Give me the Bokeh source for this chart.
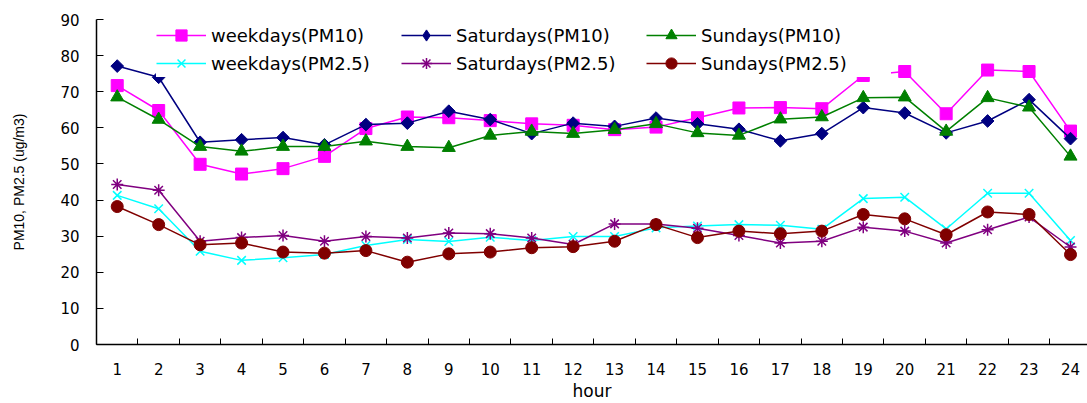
import math
from bokeh.plotting import figure
from bokeh.models import FixedTicker, Legend, LegendItem, Range1d
from bokeh.embed import file_html
from bokeh.resources import INLINE

hours = list(range(1, 25))
hour_labels = [str(h) for h in hours]
y_ticks = [0, 10, 20, 30, 40, 50, 60, 70, 80, 90]

weekdays_pm10 = [71.7, 64.8, 49.9, 47.2, 48.7, 52.1, 59.8, 63.0, 62.8, 62.0, 61.1, 60.7,
                 59.5, 60.2, 62.8, 65.5, 65.6, 65.3, 74.5, 75.6, 63.9, 76.0, 75.6, 59.1]
saturdays_pm10 = [77.1, 74.0, 56.0, 56.7, 57.3, 55.3, 60.9, 61.3, 64.6, 62.3, 58.4, 61.3,
                  60.4, 62.7, 61.1, 59.6, 56.4, 58.4, 65.6, 64.1, 58.6, 61.9, 67.8, 57.0]
sundays_pm10 = [68.5, 62.3, 54.8, 53.5, 54.8, 54.8, 56.3, 54.8, 54.5, 57.9, 59.0, 58.4,
                59.5, 61.1, 58.6, 57.9, 62.4, 63.0, 68.3, 68.5, 59.0, 68.3, 65.7, 52.1]
weekdays_pm25 = [41.3, 37.6, 25.8, 23.3, 24.0, 24.9, 27.4, 29.1, 28.5, 29.7, 28.8, 29.9,
                 29.9, 32.3, 32.8, 33.2, 33.0, 31.9, 40.4, 40.8, 32.0, 41.9, 41.9, 28.8]
saturdays_pm25 = [44.3, 42.7, 28.6, 29.6, 30.2, 28.6, 29.9, 29.5, 30.9, 30.7, 29.5, 27.7,
                  33.4, 33.4, 32.2, 30.2, 28.1, 28.6, 32.5, 31.4, 28.1, 31.8, 35.3, 27.0]
sundays_pm25 = [38.2, 33.2, 27.6, 28.1, 25.6, 25.3, 26.0, 22.8, 25.1, 25.6, 26.8, 27.1,
                28.6, 33.2, 29.6, 31.4, 30.7, 31.4, 36.0, 34.8, 30.4, 36.7, 36.0, 24.9]

# label, values, colour, marker, size, angle, legend marker
series = [
    ("weekdays(PM10)", weekdays_pm10, "#FF00FF", "square", 12, 0.0, "square"),
    ("Saturdays(PM10)", saturdays_pm10, "#000080", "square", 9, math.pi / 4, "diamond"),
    ("Sundays(PM10)", sundays_pm10, "#008000", "triangle", 13, 0.0, "triangle"),
    ("weekdays(PM2.5)", weekdays_pm25, "#00FFFF", "x", 12, 0.0, "x"),
    ("Saturdays(PM2.5)", saturdays_pm25, "#800080", "asterisk", 12, 0.0, "asterisk"),
    ("Sundays(PM2.5)", sundays_pm25, "#800000", "circle", 12, 0.0, "circle"),
]

FONT = "DejaVu Sans"

p = figure(width=1087, height=403, output_backend="svg", toolbar_location=None,
           x_range=Range1d(0.5, 24.41), y_range=Range1d(0, 90),
           min_border_left=96, min_border_right=0, min_border_top=19,
           min_border_bottom=59)
p.outline_line_color = None
p.xgrid.grid_line_color = None
p.ygrid.grid_line_color = None
p.background_fill_color = "white"
p.border_fill_color = "white"

items = {}
for label, vals, color, marker, size, ang, lmarker in series:
    r1 = p.line(hours, vals, line_color=color, line_width=1.5)
    kw = dict(marker=marker, size=size, angle=ang, line_color=color)
    if marker in ("x", "asterisk"):
        kw.update(fill_color=None, line_width=1.5)
    else:
        kw.update(fill_color=color, line_width=1)
    r2 = p.scatter(hours, vals, **kw)
    if lmarker != marker:
        lkw = dict(kw)
        lkw.update(marker=lmarker, angle=0.0)
        r2 = p.scatter([float("nan")], [float("nan")], **lkw)
    items[label] = LegendItem(label=label, renderers=[r1, r2])

order = ["weekdays(PM10)", "weekdays(PM2.5)", "Saturdays(PM10)",
         "Saturdays(PM2.5)", "Sundays(PM10)", "Sundays(PM2.5)"]

# x axis
p.xaxis.ticker = FixedTicker(ticks=hours, minor_ticks=[h + 0.5 for h in range(0, 25)])
p.xaxis.major_label_overrides = {h: s for h, s in zip(hours, hour_labels)}
p.xaxis.major_tick_in = 0
p.xaxis.major_tick_out = 0
p.xaxis.minor_tick_in = 6
p.xaxis.minor_tick_out = 0
p.xaxis.axis_line_color = "black"
p.xaxis.minor_tick_line_color = "black"
p.xaxis.axis_line_width = 1.5
p.xaxis.major_label_text_font = FONT
p.xaxis.major_label_text_font_size = "15px"
p.xaxis.major_label_text_color = "black"
p.xaxis.major_label_standoff = 18
p.xaxis.axis_label = "hour"
p.xaxis.axis_label_text_font = FONT
p.xaxis.axis_label_text_font_style = "normal"
p.xaxis.axis_label_text_font_size = "17px"
p.xaxis.axis_label_standoff = 3
p.xaxis.axis_label_text_color = "black"

# y axis
p.yaxis.ticker = FixedTicker(ticks=y_ticks, minor_ticks=[])
p.yaxis.major_tick_in = 7
p.yaxis.major_tick_out = 0
p.yaxis.major_tick_line_color = "black"
p.yaxis.axis_line_color = "black"
p.yaxis.axis_line_width = 1.5
p.yaxis.major_label_text_font = FONT
p.yaxis.major_label_text_font_size = "15px"
p.yaxis.major_label_text_color = "black"
p.yaxis.major_label_standoff = 17
p.yaxis.axis_label = "PM10, PM2.5 (ug/m3)"
p.yaxis.axis_label_text_font = "Liberation Sans"
p.yaxis.axis_label_text_font_style = "normal"
p.yaxis.axis_label_text_font_size = "14px"
p.yaxis.axis_label_standoff = 30
p.yaxis.axis_label_text_color = "black"

legend = Legend(items=[items[k] for k in order], location=(60, 267), ncols=3,
                glyph_width=50, glyph_height=28, label_height=28,
                label_width=190, label_standoff=5, spacing=0, padding=4, margin=0,
                label_text_font=FONT, label_text_font_size="18px",
                label_text_color="black",
                background_fill_color="white", background_fill_alpha=1.0,
                border_line_color=None)
p.add_layout(legend, "center")

open("out.html", "w").write(file_html(p, INLINE))
